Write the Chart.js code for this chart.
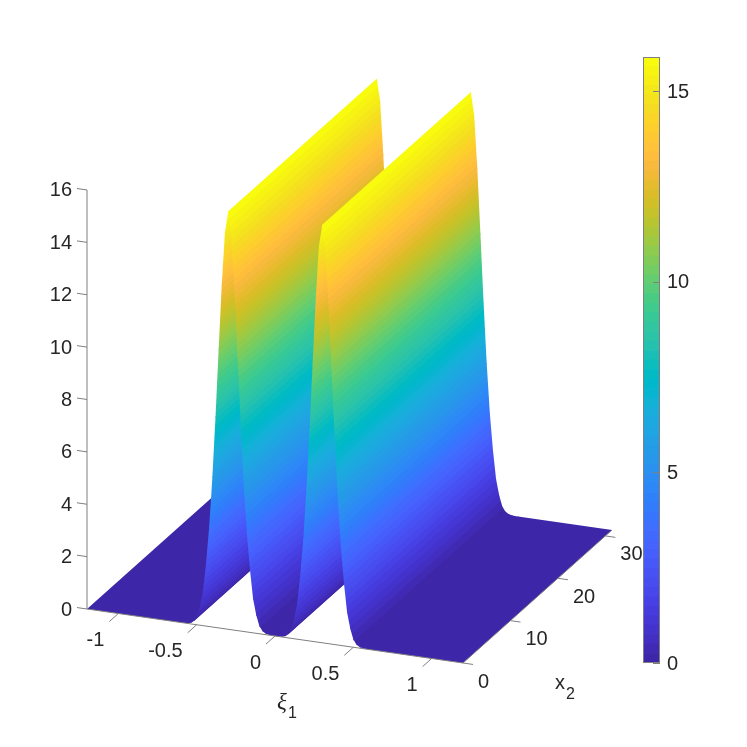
<!DOCTYPE html>
<html>
<head>
<meta charset="utf-8">
<title>surface</title>
<script src="https://cdn.jsdelivr.net/npm/chart.js@4"></script>
<style>
  html, body { margin: 0; padding: 0; background: #fff; }
  #wrap { position: relative; width: 747px; height: 747px; overflow: hidden; }
  #surfaceChart { position: absolute; left: 0; top: 0; }
  #barChart { position: absolute; left: 643px; top: 0; }
</style>
</head>
<body>
<div id="wrap">
  <canvas id="surfaceChart" width="747" height="747"></canvas>
  <canvas id="barChart" width="104" height="747"></canvas>
</div>
<script>
// values
const xiValues = [-1.2, -0.6, -0.58, -0.56, -0.54, -0.52, -0.5, -0.48, -0.46, -0.44, -0.42, -0.4, -0.38, -0.36, -0.34, -0.32,
  -0.3, -0.28, -0.26, -0.24, -0.22, -0.2, -0.18, -0.16, -0.14, -0.12, -0.1, -0.08, -0.06, -0.04, -0.02, 0,
  0.02, 0.04, 0.06, 0.08, 0.1, 0.12, 0.14, 0.16, 0.18, 0.2, 0.22, 0.24, 0.26, 0.28,
  0.3, 0.32, 0.34, 0.36, 0.38, 0.4, 0.42, 0.44, 0.46, 0.48, 0.5, 0.52, 0.54, 0.56, 0.58, 0.6, 1.2];
const zValues = [0, 0, 0, 0.01, 0.04, 0.12, 0.3, 0.7, 1.3, 2.4, 3.8, 5.7, 8, 10.6, 13.1, 15.1,
  15.9, 15.1, 13.1, 10.6, 8, 5.7, 3.8, 2.4, 1.3, 0.7, 0.3, 0.12, 0.04, 0.01, 0, 0,
  0, 0.01, 0.04, 0.12, 0.3, 0.7, 1.3, 2.4, 3.8, 5.7, 8, 10.6, 13.1, 15.1,
  15.9, 15.1, 13.1, 10.6, 8, 5.7, 3.8, 2.4, 1.3, 0.7, 0.3, 0.12, 0.04, 0.01, 0, 0, 0];
const x2Range = [0, 31.4];
const xiRange = [-1.2, 1.2];
const zRange = [0, 16];
const colorMax = 15.9;

const xiTicks = [-1, -0.5, 0, 0.5, 1];
const x2Ticks = [0, 10, 20, 30];
const zTicks = [0, 2, 4, 6, 8, 10, 12, 14, 16];
const barTicks = [0, 5, 10, 15];

const parula = [
  [.2422,.1504,.6603],[.2504,.1650,.7076],[.2578,.1818,.7511],[.2647,.1978,.7952],[.2706,.2147,.8364],[.2751,.2342,.8710],
  [.2783,.2559,.8991],[.2803,.2782,.9221],[.2813,.3006,.9414],[.2810,.3228,.9579],[.2795,.3447,.9717],[.2760,.3667,.9829],
  [.2699,.3892,.9906],[.2602,.4123,.9952],[.2440,.4358,.9988],[.2206,.4603,.9973],[.1963,.4847,.9892],[.1834,.5074,.9798],
  [.1786,.5289,.9682],[.1764,.5499,.9520],[.1687,.5703,.9359],[.1540,.5902,.9218],[.1460,.6091,.9079],[.1380,.6276,.8973],
  [.1248,.6459,.8883],[.1113,.6635,.8763],[.0952,.6798,.8598],[.0689,.6948,.8394],[.0297,.7082,.8163],[.0036,.7203,.7917],
  [.0067,.7312,.7660],[.0433,.7411,.7394],[.0964,.7500,.7120],[.1408,.7584,.6842],[.1717,.7670,.6554],[.1938,.7758,.6251],
  [.2161,.7843,.5923],[.2470,.7918,.5567],[.2906,.7973,.5188],[.3406,.8008,.4789],[.3909,.8029,.4354],[.4456,.8024,.3909],
  [.5044,.7993,.3480],[.5616,.7942,.3045],[.6174,.7876,.2612],[.6720,.7793,.2227],[.7242,.7698,.1910],[.7738,.7598,.1646],
  [.8203,.7498,.1535],[.8634,.7406,.1596],[.9035,.7330,.1774],[.9393,.7288,.2100],[.9728,.7298,.2394],[.9956,.7434,.2371],
  [.9970,.7659,.2199],[.9952,.7861,.1996],[.9892,.8130,.1760],[.9786,.8354,.1580],[.9659,.8589,.1390],[.9610,.8840,.1180],
  [.9610,.9087,.1000],[.9644,.9337,.0800],[.9700,.9580,.0650],[.9763,.9831,.0538]
];

const axisColor = '#7f7f7f';
const textColor = '#262626';
const labelFont = '20px "Liberation Sans", Arial, sans-serif';

function levelColor(k) {
  const c = parula[Math.max(0, Math.min(parula.length - 1, k))];
  return 'rgb(' + Math.round(c[0] * 255) + ',' + Math.round(c[1] * 255) + ',' + Math.round(c[2] * 255) + ')';
}
function levelOf(z) {
  return Math.floor(z / colorMax * parula.length);
}

// oblique view of the box: x scale is screen px, y scale is z units
const pxPerZ = 26.19;
function project(xi, x2, z) {
  const u = xi - xiRange[0];
  return {
    x: 87 + u * 156.67 + x2 * 4.745,
    y: z - (u * 22.5 - x2 * 4.236) / pxPerZ
  };
}

function stripPaint(chart, i) {
  const z0 = zValues[i], z1 = zValues[i + 1];
  if (!chart.chartArea || levelOf(z0) === levelOf(z1)) return levelColor(levelOf(z0));
  const sx = chart.scales.x, sy = chart.scales.y;
  const px = p => ({ x: sx.getPixelForValue(p.x), y: sy.getPixelForValue(p.y) });
  const a = px(project(xiValues[i], x2Range[0], z0));
  const b = px(project(xiValues[i + 1], x2Range[0], z1));
  const c = px(project(xiValues[i], x2Range[1], z0));
  // gradient runs across the strip so colour bands stay parallel to x2
  const ex = c.x - a.x, ey = c.y - a.y, len = Math.hypot(ex, ey);
  const nx = -ey / len, ny = ex / len;
  const t = (b.x - a.x) * nx + (b.y - a.y) * ny;
  const g = chart.ctx.createLinearGradient(a.x, a.y, a.x + nx * t, a.y + ny * t);
  const up = z1 > z0;
  const l0 = levelOf(z0), l1 = levelOf(z1);
  g.addColorStop(0, levelColor(l0));
  if (up) {
    for (let k = l0 + 1; k <= l1; k++) {
      const f = (k / parula.length * colorMax - z0) / (z1 - z0);
      g.addColorStop(f, levelColor(k - 1));
      g.addColorStop(f, levelColor(k));
    }
  } else {
    for (let k = l0; k > l1; k--) {
      const f = (k / parula.length * colorMax - z0) / (z1 - z0);
      g.addColorStop(f, levelColor(k));
      g.addColorStop(f, levelColor(k - 1));
    }
  }
  g.addColorStop(1, levelColor(l1));
  return g;
}

function lineSet(points) {
  return {
    data: points, showLine: true, fill: false, pointRadius: 0,
    borderColor: axisColor, borderWidth: 1, tension: 0, clip: false
  };
}

// how far a strip runs on under the next one, so no seam shows between them
function overlapFor(i) {
  if (i === xiValues.length - 2) return 0;
  const a = project(xiValues[i], 0, zValues[i]);
  const b = project(xiValues[i + 1], 0, zValues[i + 1]);
  const dx = b.x - a.x, dy = (b.y - a.y) * pxPerZ;
  const wide = Math.abs(dx * 4.236 - dy * 4.745) / Math.hypot(4.745, 4.236);
  return Math.min(0.35, 1 / wide);
}

const datasets = [];

// box edges and tick marks, on top
datasets.push(lineSet([project(xiRange[0], 0, 0), project(xiRange[1], 0, 0)]));
datasets.push(lineSet([project(xiRange[1], x2Range[0], 0), project(xiRange[1], x2Range[1], 0)]));
datasets.push(lineSet([project(xiRange[0], 0, zRange[0]), project(xiRange[0], 0, zRange[1])]));
xiTicks.forEach(v => datasets.push(lineSet([project(v, 0, 0), project(v, -1.9, 0)])));
x2Ticks.forEach(v => datasets.push(lineSet([project(xiRange[1], v, 0), project(xiRange[1] + 0.064, v, 0)])));
zTicks.forEach(v => datasets.push(lineSet([project(xiRange[0], 0, v), project(xiRange[0] - 0.064, 0, v)])));

// surface strips, nearest first because Chart.js paints dataset 0 last
for (let i = xiValues.length - 2; i >= 0; i--) {
  const f = overlapFor(i);
  const endXi = xiValues[i + 1] + (xiValues[i + 1] - xiValues[i]) * f;
  const endZ = zValues[i + 1] + (zValues[i + 1] - zValues[i]) * f;
  const a0 = project(xiValues[i], x2Range[0], zValues[i]);
  const a1 = project(xiValues[i], x2Range[1], zValues[i]);
  const b1 = project(endXi, x2Range[1], endZ);
  const b0 = project(endXi, x2Range[0], endZ);
  datasets.push({
    data: [a0, a1, b1, b0, a0],
    showLine: true,
    fill: 'shape',
    pointRadius: 0,
    borderWidth: 0,
    tension: 0,
    clip: false,
    backgroundColor: ctx => stripPaint(ctx.chart, i)
  });
}

const boxLabels = {
  id: 'boxLabels',
  afterDraw(chart) {
    const c = chart.ctx, sx = chart.scales.x, sy = chart.scales.y;
    const px = p => ({ x: sx.getPixelForValue(p.x), y: sy.getPixelForValue(p.y) });
    c.save();
    c.fillStyle = textColor;
    c.font = labelFont;
    c.textBaseline = 'middle';
    c.textAlign = 'right';
    xiTicks.forEach(v => {
      const p = px(project(v, 0, 0));
      c.fillText(String(v), p.x - 14, p.y + 27);
    });
    c.textAlign = 'left';
    x2Ticks.forEach(v => {
      const p = px(project(xiRange[1], v, 0));
      c.fillText(String(v), p.x + 15, p.y + 19);
    });
    // axis names with subscripts
    c.font = 'italic 23px "Liberation Serif", serif';
    c.fillText('ξ', 277, 703);
    c.font = labelFont;
    c.fillText('x', 555, 683);
    c.font = '16px "Liberation Sans", Arial, sans-serif';
    c.fillText('1', 288, 714);
    c.fillText('2', 566, 695);
    c.restore();
  }
};

function noMargins(s) {
  s.paddingTop = 0;
  s.paddingBottom = 0;
  s.paddingLeft = 0;
  s.paddingRight = 0;
}

new Chart(document.getElementById('surfaceChart'), {
  type: 'scatter',
  data: { datasets: datasets },
  plugins: [boxLabels],
  options: {
    responsive: false,
    animation: false,
    events: [],
    layout: { padding: 0 },
    plugins: { legend: { display: false }, tooltip: { enabled: false } },
    scales: {
      x: { type: 'linear', min: 0, max: 747, display: false },
      y: {
        type: 'linear',
        position: { x: 72 },
        min: (609 - 747) / pxPerZ,
        max: 609 / pxPerZ,
        afterBuildTicks: s => { s.ticks = zTicks.map(v => ({ value: v })); },
        afterFit: noMargins,
        border: { display: false },
        grid: { drawOnChartArea: false, drawTicks: false },
        ticks: { color: textColor, font: { family: '"Liberation Sans", Arial, sans-serif', size: 20 }, padding: 0, labelOffset: 1 }
      }
    }
  }
});

// colour bar
const barLevels = parula.map((c, k) => [k / parula.length * colorMax, (k + 1) / parula.length * colorMax]);

const barFrame = {
  id: 'barFrame',
  afterDatasetsDraw(chart) {
    const c = chart.ctx, a = chart.chartArea, s = chart.scales.y;
    c.save();
    c.strokeStyle = axisColor;
    c.lineWidth = 1;
    c.strokeRect(a.left + 0.5, a.top + 0.5, a.width - 1, a.height - 1);
    c.beginPath();
    barTicks.forEach(v => {
      const y = Math.round(s.getPixelForValue(v)) + 0.5;
      c.moveTo(a.right - 7, y);
      c.lineTo(a.right, y);
    });
    c.stroke();
    c.restore();
  }
};

new Chart(document.getElementById('barChart'), {
  type: 'bar',
  data: {
    labels: [''],
    datasets: barLevels.map((lv, k) => ({
      data: [lv],
      backgroundColor: levelColor(k),
      borderWidth: 0,
      barPercentage: 1,
      categoryPercentage: 1
    }))
  },
  plugins: [barFrame],
  options: {
    responsive: false,
    animation: false,
    events: [],
    layout: { padding: { top: 57, bottom: 84, left: 0, right: 0 } },
    plugins: { legend: { display: false }, tooltip: { enabled: false } },
    scales: {
      x: { stacked: true, display: false },
      y: {
        position: 'right',
        min: 0,
        max: colorMax,
        afterBuildTicks: s => { s.ticks = barTicks.map(v => ({ value: v })); },
        afterFit: s => { noMargins(s); s.width = 87; },
        border: { display: false },
        grid: { drawOnChartArea: false, drawTicks: false },
        ticks: { color: textColor, font: { family: '"Liberation Sans", Arial, sans-serif', size: 20 }, padding: 7, labelOffset: 1 }
      }
    }
  }
});
</script>
</body>
</html>
